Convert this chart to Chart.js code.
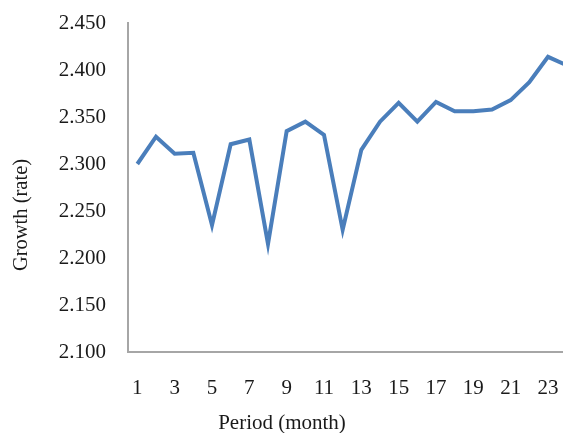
<!DOCTYPE html>
<html>
<head>
<meta charset="utf-8">
<script src="https://cdn.jsdelivr.net/npm/chart.js@4/dist/chart.umd.min.js"></script>
<style>
  html, body { margin: 0; padding: 0; background: #fff; overflow: hidden; }
  #wrap { width: 563px; height: 433px; overflow: hidden; position: relative; }
  #chart { display: block; }
</style>
</head>
<body>
<div id="wrap"><canvas id="chart" width="576" height="433"></canvas></div>
<script>
// Monthly growth rate, periods 1..24
const periods = ['1','2','3','4','5','6','7','8','9','10','11','12',
                 '13','14','15','16','17','18','19','20','21','22','23','24'];
const growth = [2.300, 2.329, 2.311, 2.312, 2.235, 2.321, 2.326, 2.215,
                2.335, 2.345, 2.331, 2.230, 2.315, 2.345, 2.365, 2.345,
                2.366, 2.356, 2.356, 2.358, 2.368, 2.387, 2.414, 2.405];
const yMin = 2.1, yMax = 2.45, yStep = 0.05;
const xTitle = 'Period (month)';
const yTitle = 'Growth (rate)';

const FONT = '"Liberation Serif", "Times New Roman", serif';
const TEXT = '#1a1a1a';

// Axis titles placed at fixed spots beside the plot
const axisTitles = {
  id: 'axisTitles',
  afterDraw(chart) {
    const ctx = chart.ctx;
    ctx.save();
    ctx.fillStyle = TEXT;
    ctx.font = '21px ' + FONT;
    ctx.textAlign = 'center';
    ctx.textBaseline = 'middle';
    ctx.fillText(xTitle, 282, 423);
    ctx.font = '20.5px ' + FONT;
    ctx.translate(22, 215);
    ctx.rotate(-Math.PI / 2);
    ctx.fillText(yTitle, 0, 0);
    ctx.restore();
  }
};

new Chart(document.getElementById('chart'), {
  type: 'line',
  data: {
    labels: periods,
    datasets: [{
      data: growth,
      borderColor: '#4a7ebb',
      borderWidth: 4,
      pointRadius: 0,
      tension: 0,
      fill: false
    }]
  },
  options: {
    responsive: false,
    animation: false,
    layout: { padding: { top: 23, right: 0, bottom: 0, left: 0 } },
    plugins: { legend: { display: false }, tooltip: { enabled: false } },
    scales: {
      x: {
        offset: true,
        grid: { display: false, drawTicks: false, tickLength: 0 },
        border: { display: true, color: '#a6a6a6', width: 2 },
        ticks: {
          autoSkip: false,
          maxRotation: 0,
          padding: 24,
          color: TEXT,
          font: { family: FONT, size: 21 },
          callback: (v, i) => (i % 2 === 0 ? periods[i] : '')
        },
        afterFit(scale) {
          scale.height = 81;
          scale.paddingLeft = 0;
          scale.paddingRight = 0;
        }
      },
      y: {
        min: yMin,
        max: yMax,
        grid: { display: false, drawTicks: false, tickLength: 0 },
        border: { display: true, color: '#a6a6a6', width: 2 },
        ticks: {
          stepSize: yStep,
          padding: 22,
          color: TEXT,
          font: { family: FONT, size: 21 },
          callback: v => Number(v).toFixed(3)
        },
        afterFit(scale) {
          scale.width = 128;
          scale.paddingTop = 0;
          scale.paddingBottom = 0;
        }
      }
    }
  },
  plugins: [axisTitles]
});
</script>
</body>
</html>
